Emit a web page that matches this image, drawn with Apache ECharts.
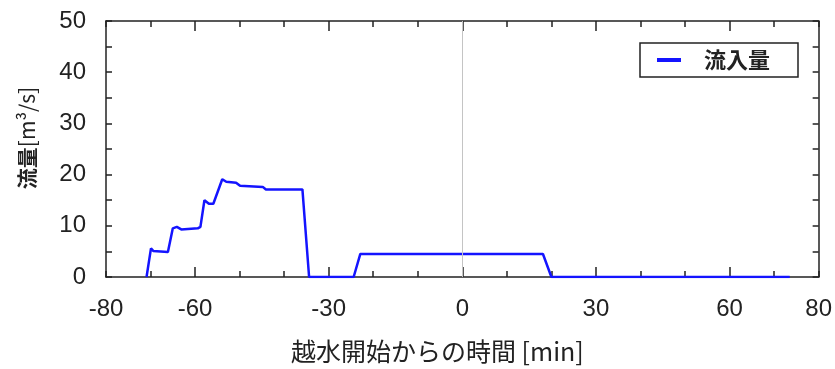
<!DOCTYPE html>
<html>
<head>
<meta charset="utf-8">
<script src="https://cdn.jsdelivr.net/npm/echarts@6/dist/echarts.min.js"></script>
<style>
  html, body { margin: 0; padding: 0; background: #ffffff; }
  #chart { width: 835px; height: 369px; }
</style>
</head>
<body>
<div id="chart"></div>
<script>
// Time since overtopping began [min]
const timeMin = [-70.9, -69.9, -69.4, -66.1, -65.0, -64.1, -63.1, -59.4, -58.8, -57.9,
                 -56.9, -55.9, -53.9, -53.0, -50.8, -49.9, -44.8, -44.1, -35.9, -34.4,
                 -24.4, -22.9, 18.1, 20.0, 73.5];
// Inflow discharge [m3/s]
const inflow = [0, 5.6, 5.1, 4.9, 9.5, 9.8, 9.3, 9.5, 9.8, 15.0,
                14.3, 14.3, 19.1, 18.6, 18.4, 17.8, 17.6, 17.1, 17.1, 0,
                0, 4.5, 4.5, 0, 0];

const seriesName = '流入量';
const xLabelValues = [-80, -60, -30, 0, 30, 60, 80];
const xMajorTicks = [-60, -30, 0, 30, 60];
const yLabelStep = 10;

const numFont = 'Liberation Sans';
const jpFont = 'Noto Sans CJK JP';
const ink = '#222222';

const chart = echarts.init(document.getElementById('chart'), null, { renderer: 'canvas' });

const tickLine = { color: ink, width: 1.5 };
const frameLine = { show: true, onZero: false, lineStyle: { color: ink, width: 1.5 } };
const baseX = { type: 'value', min: -80, max: 80, splitLine: { show: false } };
const baseY = { type: 'value', min: 0, max: 50, interval: 5, splitLine: { show: false } };

chart.setOption({
  animation: false,
  backgroundColor: '#ffffff',
  grid: { left: 106, right: 13, top: 21, bottom: 92 },
  legend: {
    left: 640, top: 43,
    data: [{ name: seriesName, icon: 'rect' }],
    itemWidth: 24, itemHeight: 4,
    borderColor: ink, borderWidth: 1.5,
    padding: [6, 28, 6, 17],
    textStyle: { fontFamily: jpFont, fontSize: 22, fontWeight: 'bold', color: ink, padding: [0, 0, 0, 18] }
  },
  xAxis: [
    // bottom frame: minor ticks every 10 min, labels at selected values
    Object.assign({}, baseX, {
      position: 'bottom', interval: 10,
      axisLine: frameLine,
      axisTick: { show: true, inside: true, length: 6, lineStyle: tickLine },
      axisLabel: { customValues: xLabelValues, fontFamily: numFont, fontSize: 24, color: ink, margin: 20 },
      name: '越水開始からの時間 [min]',
      nameLocation: 'middle',
      nameGap: 62,
      nameTextStyle: { fontFamily: jpFont, fontSize: 25, color: ink, padding: [0, 50, 0, 0] }
    }),
    // top frame
    Object.assign({}, baseX, {
      position: 'top', interval: 10,
      axisLine: frameLine,
      axisTick: { show: true, inside: true, length: 6, lineStyle: tickLine },
      axisLabel: { show: false }
    }),
    // longer ticks at the labelled positions, bottom and top
    Object.assign({}, baseX, {
      position: 'bottom',
      axisLine: { show: false, onZero: false },
      axisTick: { show: true, inside: true, length: 10, customValues: xMajorTicks, lineStyle: tickLine },
      axisLabel: { show: false, customValues: xMajorTicks }
    }),
    Object.assign({}, baseX, {
      position: 'top',
      axisLine: { show: false, onZero: false },
      axisTick: { show: true, inside: true, length: 10, customValues: xMajorTicks, lineStyle: tickLine },
      axisLabel: { show: false, customValues: xMajorTicks }
    })
  ],
  yAxis: [
    Object.assign({}, baseY, {
      position: 'left',
      axisLine: frameLine,
      axisTick: { show: true, inside: true, length: 6, lineStyle: tickLine },
      axisLabel: {
        fontFamily: numFont, fontSize: 24, color: ink, margin: 20, padding: [7, 0, 0, 0],
        formatter: v => (v % yLabelStep === 0 ? String(v) : '')
      },
      name: '{b|流量}[m³/s]',
      nameLocation: 'middle',
      nameGap: 68,
      nameTextStyle: {
        fontFamily: jpFont, fontSize: 21, color: ink, padding: [0, 0, 0, 22],
        rich: { b: { fontFamily: jpFont, fontSize: 21, fontWeight: 'bold', color: ink } }
      }
    }),
    Object.assign({}, baseY, {
      position: 'right',
      axisLine: frameLine,
      axisTick: { show: true, inside: true, length: 6, lineStyle: tickLine },
      axisLabel: { show: false }
    })
  ],
  series: [{
    name: seriesName,
    type: 'line',
    xAxisIndex: 0, yAxisIndex: 0,
    data: timeMin.map((t, i) => [t, inflow[i]]),
    showSymbol: false, symbol: 'none',
    color: '#1414ff',
    lineStyle: { color: '#1414ff', width: 2.5 },
    z: 3,
    markLine: {
      silent: true,
      symbol: ['none', 'none'],
      label: { show: false },
      lineStyle: { color: '#c4c4c4', type: 'solid', width: 1 },
      data: [{ xAxis: 0 }]
    }
  }]
});
</script>
</body>
</html>
